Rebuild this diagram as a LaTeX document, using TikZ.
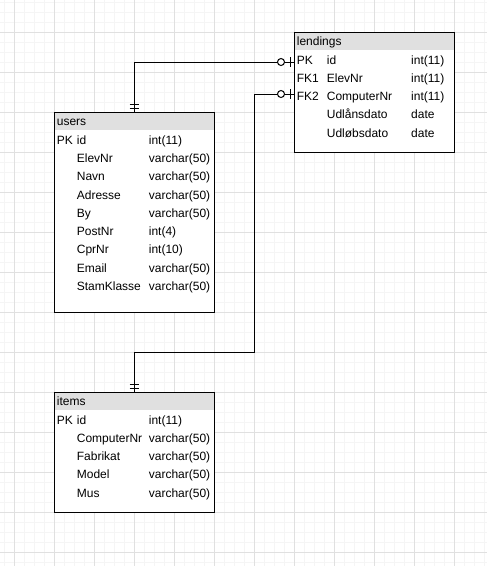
\documentclass[tikz,border=0pt]{standalone}
\usepackage{fontspec}
\setmainfont{Liberation Sans}
\begin{document}
\begin{tikzpicture}[x=1pt,y=-1pt,
  minor/.style={draw=black!4, line width=1pt},
  major/.style={draw=black!12, line width=1pt},
  tbl/.style={fill=white, minimum width=160pt, anchor=north west, inner sep=0pt, outer sep=0pt},
  hdr/.style={fill=black!12},
  border/.style={draw=black, line width=1pt},
  txt/.style={anchor=base west, inner sep=0pt, font=\fontsize{12pt}{14pt}\selectfont},
  conn/.style={draw=black, line width=1pt},
  zeroone/.pic={\draw[line width=1pt] (-4,-5) -- (-4,5);
                \draw[line width=1pt, fill=white] (-13,0) circle (3.5pt);},
  mandone/.pic={\draw[line width=1pt] (-4.5,-4) -- (4.5,-4);
                \draw[line width=1pt] (-4.5,-8) -- (4.5,-8);}]
\useasboundingbox (0,0) rectangle (487,566);
% grid
\foreach \x in {4,14,...,484} \draw[minor] (\x,0) -- (\x,566);
\foreach \y in {2,12,...,562} \draw[minor] (0,\y) -- (487,\y);
\foreach \x in {14,54,...,454} \draw[major] (\x,0) -- (\x,566);
\foreach \y in {32,72,...,552} \draw[major] (0,\y) -- (487,\y);

% users
\node[tbl, minimum height=200pt] (users) at (54,112) {};
\fill[hdr] (users.north west) rectangle ([yshift=-18pt]users.north east);
\draw[border] (users.north west) rectangle (users.south east);
\node[txt] (users-t) at ([shift={(2.7,13.3)}]users.north west) {users};
\foreach [count=\i from 0] \k/\n/\t in {{PK}/{id}/{int(11)},{}/{ElevNr}/{varchar(50)},{}/{Navn}/{varchar(50)},{}/{Adresse}/{varchar(50)},{}/{By}/{varchar(50)},{}/{PostNr}/{int(4)},{}/{CprNr}/{int(10)},{}/{Email}/{varchar(50)},{}/{StamKlasse}/{varchar(50)}}{
  \node[txt] (users-k\i) at ([shift={(2.7,32.3+18.25*\i)}]users.north west) {\k};
  \node[txt] (users-n\i) at ([shift={(22.7,32.3+18.25*\i)}]users.north west) {\n};
  \node[txt] (users-y\i) at ([shift={(94.7,32.3+18.25*\i)}]users.north west) {\t};
}

% items
\node[tbl, minimum height=120pt] (items) at (54,392) {};
\fill[hdr] (items.north west) rectangle ([yshift=-18pt]items.north east);
\draw[border] (items.north west) rectangle (items.south east);
\node[txt] (items-t) at ([shift={(2.7,13.3)}]items.north west) {items};
\foreach [count=\i from 0] \k/\n/\t in {{PK}/{id}/{int(11)},{}/{ComputerNr}/{varchar(50)},{}/{Fabrikat}/{varchar(50)},{}/{Model}/{varchar(50)},{}/{Mus}/{varchar(50)}}{
  \node[txt] (items-k\i) at ([shift={(2.7,32.3+18.2*\i)}]items.north west) {\k};
  \node[txt] (items-n\i) at ([shift={(22.7,32.3+18.2*\i)}]items.north west) {\n};
  \node[txt] (items-y\i) at ([shift={(94.7,32.3+18.2*\i)}]items.north west) {\t};
}

% lendings
\node[tbl, minimum height=120pt] (lendings) at (294,32) {};
\fill[hdr] (lendings.north west) rectangle ([yshift=-18pt]lendings.north east);
\draw[border] (lendings.north west) rectangle (lendings.south east);
\node[txt] (lendings-t) at ([shift={(2.7,13.3)}]lendings.north west) {lendings};
\foreach [count=\i from 0] \k/\n/\t in {{PK}/{id}/{int(11)},{FK1}/{ElevNr}/{int(11)},{FK2}/{ComputerNr}/{int(11)},{}/{Udlånsdato}/{date},{}/{Udløbsdato}/{date}}{
  \node[txt] (lendings-k\i) at ([shift={(2.7,32.3+18.2*\i)}]lendings.north west) {\k};
  \node[txt] (lendings-n\i) at ([shift={(32.7,32.3+18.2*\i)}]lendings.north west) {\n};
  \node[txt] (lendings-y\i) at ([shift={(117,32.3+18.2*\i)}]lendings.north west) {\t};
}

% connectors
\draw[conn] ([yshift=-30pt]lendings.north west) -| (users.north);
\coordinate (bend) at (254,352);
\draw[conn] ([yshift=-62pt]lendings.north west) -| (bend) -| (items.north);
\pic at ([yshift=-30pt]lendings.north west) {zeroone};
\pic at ([yshift=-62pt]lendings.north west) {zeroone};
\pic at (users.north) {mandone};
\pic at (items.north) {mandone};
\end{tikzpicture}
\end{document}
